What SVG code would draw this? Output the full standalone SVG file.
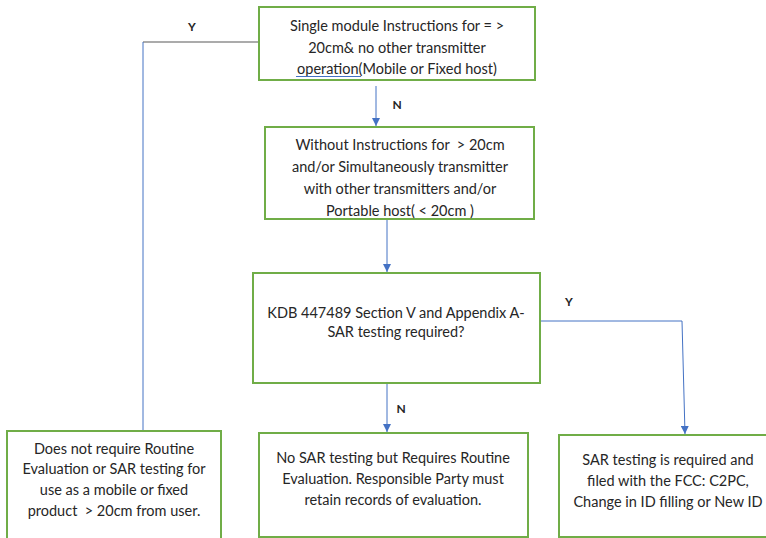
<svg xmlns="http://www.w3.org/2000/svg" width="766" height="538" viewBox="0 0 766 538">
<defs>
<marker id="ah" markerWidth="8" markerHeight="8" refX="8" refY="4" orient="auto" markerUnits="userSpaceOnUse" viewBox="0 0 8 8">
<path d="M0,0 L8,4 L0,8 Z" fill="#4472C4"/>
</marker>
<style>
.box{fill:#fff;stroke:#70AD47;stroke-width:2}
.t{font-family:Lato,"Liberation Sans",sans-serif;font-size:14.5px;fill:#262626;text-anchor:middle;white-space:pre}
.lbl{font-family:Lato,"Liberation Sans",sans-serif;font-size:12px;font-weight:bold;fill:#262626;text-anchor:middle}
.c{fill:none;stroke:#4472C4;stroke-width:1}
</style>
</defs>
<rect width="766" height="538" fill="#fff"/>
<g id="connectors">
<path d="M258,42 H143" fill="none" stroke="#595959" stroke-width="1.2"/>
<path class="c" d="M143,42 V430"/>
<path class="c" d="M376,86 V126" marker-end="url(#ah)"/>
<path class="c" d="M387,220 V272" marker-end="url(#ah)"/>
<path class="c" d="M387,384 V432" marker-end="url(#ah)"/>
<path class="c" d="M540,321 H682 L685,434" marker-end="url(#ah)"/>
<text class="lbl" x="192" y="31">Y</text>
<text class="lbl" x="397" y="109">N</text>
<text class="lbl" x="569" y="306">Y</text>
<text class="lbl" x="401" y="413">N</text>
</g>
<g id="n1">
<rect class="box" x="259" y="7" width="276" height="73"/>
<text class="t" x="397" y="31">Single module Instructions for = &gt;</text>
<text class="t" x="397" y="53">20cm&amp; no other transmitter</text>
<text class="t" x="397" y="74">operation(Mobile or Fixed host)</text>
<path d="M296,76.5 H361" stroke="#4472C4" stroke-width="1" fill="none"/>
</g>
<g id="n2">
<rect class="box" x="265" y="127" width="269" height="92"/>
<text class="t" x="400" y="150">Without Instructions for  &gt; 20cm</text>
<text class="t" x="400" y="172">and/or Simultaneously transmitter</text>
<text class="t" x="400" y="194">with other transmitters and/or</text>
<text class="t" x="400" y="216">Portable host( &lt; 20cm )</text>
</g>
<g id="n3">
<rect class="box" x="253" y="273" width="287" height="110"/>
<text class="t" x="396" y="318">KDB 447489 Section V and Appendix A-</text>
<text class="t" x="396" y="337">SAR testing required?</text>
</g>
<g id="n4">
<rect class="box" x="7" y="431" width="214" height="110"/>
<text class="t" x="114" y="454">Does not require Routine</text>
<text class="t" x="114" y="474">Evaluation or SAR testing for</text>
<text class="t" x="114" y="495">use as a mobile or fixed</text>
<text class="t" x="114" y="516">product  &gt; 20cm from user.</text>
</g>
<g id="n5">
<rect class="box" x="259" y="433" width="269" height="104"/>
<text class="t" x="393" y="463">No SAR testing but Requires Routine</text>
<text class="t" x="393" y="484">Evaluation. Responsible Party must</text>
<text class="t" x="393" y="505">retain records of evaluation.</text>
</g>
<g id="n6">
<rect class="box" x="559" y="435" width="220" height="102"/>
<text class="t" x="668" y="465">SAR testing is required and</text>
<text class="t" x="668" y="486">filed with the FCC: C2PC,</text>
<text class="t" x="668" y="507">Change in ID filling or New ID</text>
</g>
</svg>
